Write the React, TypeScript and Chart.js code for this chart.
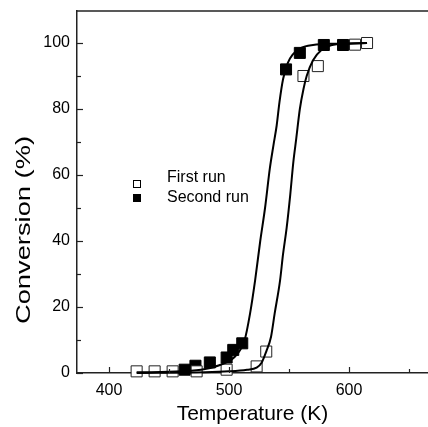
import React, { useEffect, useRef } from "react";
import { Chart, registerables } from "chart.js";

Chart.register(...registerables);

// ---- data ----
const seriesLabels = ["First run", "Second run"];

const firstRunT = [423, 438, 453, 473, 498, 523, 531, 562, 574, 605, 615];
const firstRunConv = [0.5, 0.5, 0.5, 0.5, 1, 2, 6.5, 90, 93, 99.5, 100];

const secondRunT = [463, 472, 484, 498, 503.5, 511, 547.5, 559, 579, 595];
const secondRunConv = [1, 2.2, 3.2, 4.7, 7, 9, 92, 97, 99.4, 99.4];

// fitted curves
const fitFirstT = [423, 480, 500, 515, 523, 527, 531, 535, 538, 542.5, 545, 548, 551, 553.6, 556, 559, 562, 564.7, 570, 577, 585, 600, 615];
const fitFirstConv = [0, 0.2, 0.5, 1, 1.6, 3, 6.5, 11, 18, 28, 36, 44, 54, 64, 71, 80, 86, 90, 94.8, 97.9, 99.3, 99.8, 100];

const fitSecondT = [423, 460, 480, 495, 505, 513, 517.5, 521.7, 526, 530, 534, 537, 539.7, 542, 545, 549, 553, 560, 570, 590, 615];
const fitSecondConv = [0.2, 0.5, 1.2, 2.8, 5, 10, 18, 28, 40, 50, 62, 69, 75, 82, 89, 94, 96.5, 98.5, 99.4, 99.8, 100];

const xMajorTicks = [400, 500, 600];
const xMinorTicks = [450, 550, 650];
const yMajorTicks = [0, 20, 40, 60, 80, 100];
const yMinorTicks = [10, 30, 50, 70, 90];

const xTitle = "Temperature (K)";
const yTitle = "Conversion (%)";

const FONT = '"Liberation Sans", Arial, Helvetica, sans-serif';

const toPoints = (xs: number[], ys: number[]) => xs.map((x, i) => ({ x, y: ys[i] }));

const zeroPad = (s: any) => {
  s.paddingTop = 0;
  s.paddingBottom = 0;
  s.paddingLeft = 0;
  s.paddingRight = 0;
};

const framePlugin = {
  id: "frameAndTicks",
  afterDraw(chart: any) {
    const { ctx, chartArea } = chart;
    const xs = chart.scales.x;
    const ys = chart.scales.y;
    ctx.save();
    ctx.strokeStyle = "#222";
    ctx.lineWidth = 1.5;
    // top frame line
    ctx.beginPath();
    ctx.moveTo(chartArea.left, chartArea.top);
    ctx.lineTo(chartArea.right, chartArea.top);
    ctx.stroke();
    ctx.lineWidth = 1.2;
    const tickX = (v: number, len: number) => {
      const px = Math.round(xs.getPixelForValue(v)) + 0.5;
      ctx.beginPath();
      ctx.moveTo(px, chartArea.bottom);
      ctx.lineTo(px, chartArea.bottom - len);
      ctx.stroke();
    };
    const tickY = (v: number, len: number) => {
      const py = Math.round(ys.getPixelForValue(v)) + 0.5;
      ctx.beginPath();
      ctx.moveTo(chartArea.left, py);
      ctx.lineTo(chartArea.left + len, py);
      ctx.stroke();
    };
    xMajorTicks.forEach((v) => tickX(v, 6));
    xMinorTicks.forEach((v) => tickX(v, 4));
    yMajorTicks.forEach((v) => tickY(v, 6));
    yMinorTicks.forEach((v) => tickY(v, 4));

    // legend inside plot
    ctx.font = `16px ${FONT}`;
    ctx.textBaseline = "middle";
    ctx.textAlign = "left";
    const legendRows = [
      { sq: 184, ty: 178, fill: "#fff" },
      { sq: 198, ty: 197.5, fill: "#000" },
    ];
    legendRows.forEach((r, i) => {
      ctx.fillStyle = r.fill;
      ctx.fillRect(133.5, r.sq - 3.5, 7, 7);
      ctx.strokeStyle = "#000";
      ctx.lineWidth = 1;
      ctx.strokeRect(133.5, r.sq - 3.5, 7, 7);
      ctx.fillStyle = "#000";
      ctx.fillText(seriesLabels[i], 167, r.ty);
    });

    // y-axis title (slightly stretched like the reference)
    ctx.save();
    ctx.translate(24, 230);
    ctx.rotate(-Math.PI / 2);
    ctx.scale(1.3, 1);
    ctx.font = `21px ${FONT}`;
    ctx.textAlign = "center";
    ctx.textBaseline = "middle";
    ctx.fillStyle = "#000";
    ctx.fillText(yTitle, 0, 0);
    ctx.restore();
    ctx.restore();
  },
};

export default function App() {
  const ref = useRef<HTMLCanvasElement | null>(null);

  useEffect(() => {
    if (!ref.current) return;
    const chart = new Chart(ref.current, {
      type: "scatter",
      data: {
        datasets: [
          {
            label: "fit first",
            data: toPoints(fitFirstT, fitFirstConv),
            showLine: true,
            borderColor: "#000",
            borderWidth: 2,
            pointRadius: 0,
            cubicInterpolationMode: "monotone",
          },
          {
            label: "fit second",
            data: toPoints(fitSecondT, fitSecondConv),
            showLine: true,
            borderColor: "#000",
            borderWidth: 2,
            pointRadius: 0,
            cubicInterpolationMode: "monotone",
          },
          {
            label: seriesLabels[0],
            data: toPoints(firstRunT, firstRunConv),
            showLine: false,
            pointStyle: "rect",
            pointRadius: 7.8,
            pointBackgroundColor: "#fff",
            pointBorderColor: "#222",
            pointBorderWidth: 1,
          },
          {
            label: seriesLabels[1],
            data: toPoints(secondRunT, secondRunConv),
            showLine: false,
            pointStyle: "rect",
            pointRadius: 7.8,
            pointBackgroundColor: "#000",
            pointBorderColor: "#000",
            pointBorderWidth: 1,
          },
        ],
      },
      options: {
        animation: false,
        responsive: false,
        clip: false,
        layout: { autoPadding: false, padding: { top: 11, left: 0, right: 0, bottom: 0 } },
        plugins: {
          legend: { display: false },
          tooltip: { enabled: false },
        },
        scales: {
          x: {
            type: "linear",
            min: 373.3,
            max: 665.8,
            afterBuildTicks: (s: any) => {
              s.ticks = xMajorTicks.map((v) => ({ value: v }));
            },
            afterFit: (s: any) => {
              s.height = 54;
              zeroPad(s);
            },
            grid: { display: false, drawTicks: false },
            border: { display: true, color: "#222", width: 1.5 },
            ticks: { color: "#000", padding: 8, font: { family: FONT, size: 16 } },
            title: {
              display: true,
              text: xTitle,
              color: "#000",
              padding: { top: 0, bottom: 0 },
              font: { family: FONT, size: 21 },
            },
          },
          y: {
            type: "linear",
            min: 0,
            max: 109.7,
            afterBuildTicks: (s: any) => {
              s.ticks = yMajorTicks.map((v) => ({ value: v }));
            },
            afterFit: (s: any) => {
              s.width = 77;
              zeroPad(s);
            },
            grid: { display: false, drawTicks: false },
            border: { display: true, color: "#222", width: 1.5 },
            ticks: { color: "#000", padding: 7, font: { family: FONT, size: 16 } },
            title: { display: false, text: yTitle },
          },
        },
      },
      plugins: [framePlugin],
    });
    return () => chart.destroy();
  }, []);

  return (
    <div style={{ position: "absolute", left: 0, top: 0, width: 428, height: 427, background: "#fff" }}>
      <canvas ref={ref} width={428} height={427} />
    </div>
  );
}
